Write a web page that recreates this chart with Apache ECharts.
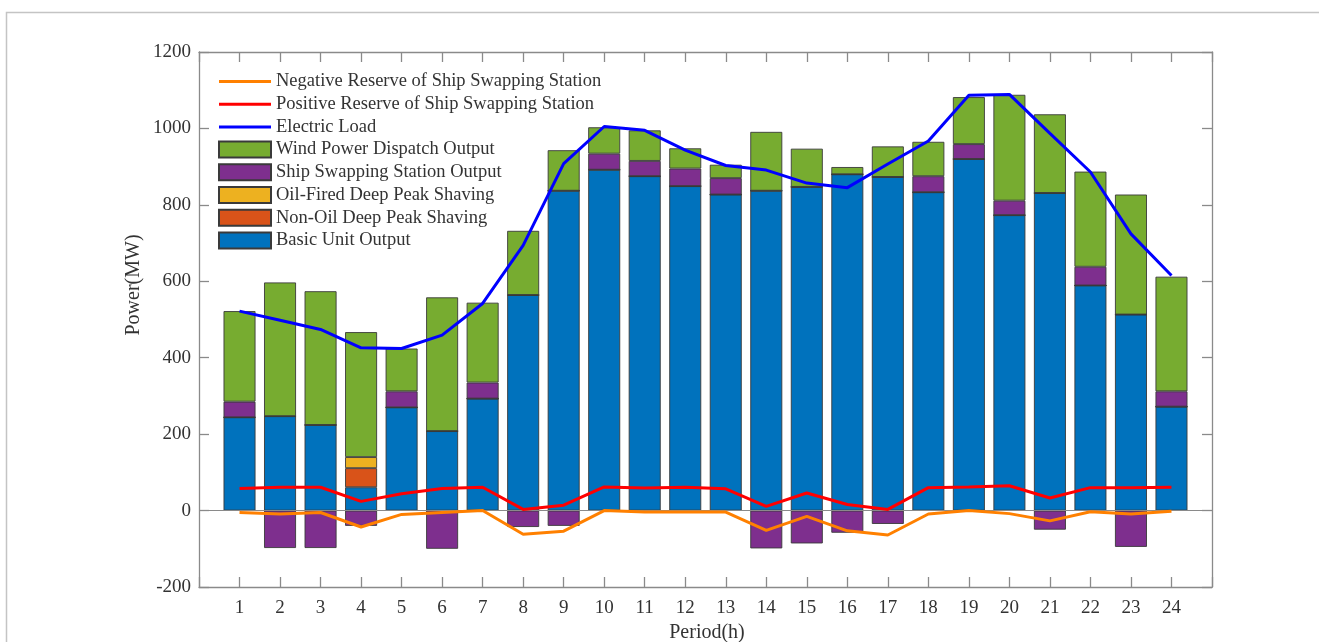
<!DOCTYPE html>
<html>
<head>
<meta charset="utf-8">
<script src="https://cdn.jsdelivr.net/npm/echarts@6/dist/echarts.min.js"></script>
<style>
  html, body { margin: 0; padding: 0; background: #fff; }
  #chart { width: 1319px; height: 642px; }
</style>
</head>
<body>
<div id="chart"></div>
<script>
// Hourly dispatch schedule (MW)
const hours = [1,2,3,4,5,6,7,8,9,10,11,12,13,14,15,16,17,18,19,20,21,22,23,24];

const basicUnit   = [244, 247, 224, 61, 270, 208, 293, 564, 837, 892, 875, 849, 827, 837, 847, 880, 873, 833, 920, 773, 831, 589, 513, 272];
const nonOilPeak  = [0, 0, 0, 50, 0, 0, 0, 0, 0, 0, 0, 0, 0, 0, 0, 0, 0, 0, 0, 0, 0, 0, 0, 0];
const oilPeak     = [0, 0, 0, 29, 0, 0, 0, 0, 0, 0, 0, 0, 0, 0, 0, 0, 0, 0, 0, 0, 0, 0, 0, 0];
const shipStation = [41, -98, -98, -40, 42, -100, 42, -43, -40, 42, 40, 46, 43, -99, -86, -58, -35, 42, 39, 38, -50, 49, -95, 40];
const windOutput  = [237, 350, 350, 327, 112, 350, 209, 168, 106, 69, 80, 53, 35, 154, 100, 19, 80, 90, 123, 277, 206, 249, 314, 300];
const electricLoad = [522, 498, 474, 426, 424, 459, 542, 694, 908, 1005, 995, 943, 903, 891, 857, 845, 907, 967, 1087, 1089, 987, 886, 724, 615];
const positiveReserve = [58, 61, 61, 24, 44, 58, 61, 3, 14, 62, 59, 61, 57, 11, 46, 16, 3, 60, 62, 65, 33, 60, 60, 61];
const negativeReserve = [-5, -9, -5, -43, -10, -5, 0, -62, -54, 0, -4, -4, -4, -52, -15, -53, -64, -9, 0, -8, -27, -3, -9, -2];

const FONT = '"Liberation Serif", "Times New Roman", serif';
const AXIS_COLOR = '#8a8a8a';
const TEXT_COLOR = '#333';

// The period axis runs from 0 to 25 with bars on the hours 1..24,
// so an empty slot is padded on each side.
const periodCats = [''].concat(hours.map(String), ['']);
const padded = arr => [null].concat(arr, [null]);

// Thin horizontal stroke used as the legend key of the line series
const LINE_ICON = 'path://M0,0 M52,16 M0,6.5 L52,6.5 L52,9.5 L0,9.5 Z';

function barSeries(name, arr, color, extra) {
  return Object.assign({
    name: name,
    type: 'bar',
    stack: 'power',
    barWidth: 32,
    data: padded(arr),
    itemStyle: { color: color, borderColor: '#3a3a3a', borderWidth: 0.9 },
    emphasis: { disabled: true }
  }, extra || {});
}

function lineSeries(name, arr, color) {
  return {
    name: name,
    type: 'line',
    data: padded(arr),
    symbol: 'none',
    connectNulls: false,
    lineStyle: { color: color, width: 3 },
    itemStyle: { color: color },
    z: 5,
    emphasis: { disabled: true }
  };
}

function periodAxis(position, showLabels) {
  return {
    type: 'category',
    data: periodCats,
    boundaryGap: false,
    position: position,
    axisLine: { show: true, onZero: false, lineStyle: { color: AXIS_COLOR, width: 1.3 } },
    axisTick: { show: true, inside: true, length: 10, interval: 0, lineStyle: { color: AXIS_COLOR, width: 1.3 } },
    axisLabel: { show: showLabels, interval: 0, fontFamily: FONT, fontSize: 19, color: TEXT_COLOR, margin: 12 },
    splitLine: { show: false }
  };
}

function powerAxis(position, showLabels) {
  return {
    type: 'value', min: -200, max: 1200, interval: 200,
    position: position,
    axisLine: { show: true, onZero: false, lineStyle: { color: AXIS_COLOR, width: 1.3 } },
    axisTick: { show: true, inside: true, length: 10, lineStyle: { color: AXIS_COLOR, width: 1.3 } },
    axisLabel: { show: showLabels, fontFamily: FONT, fontSize: 19, color: TEXT_COLOR, margin: 8, formatter: v => String(v) },
    splitLine: { show: false }
  };
}

const chart = echarts.init(document.getElementById('chart'), null, { renderer: 'canvas' });

const option = {
  animation: false,
  backgroundColor: '#fff',
  grid: { left: 199, top: 52, right: 107, bottom: 55, containLabel: false },
  legend: {
    orient: 'vertical',
    left: 218,
    top: 72,
    padding: 0,
    itemWidth: 52,
    itemHeight: 16,
    itemGap: 3.7,
    textStyle: { fontFamily: FONT, fontSize: 18.5, color: TEXT_COLOR },
    data: [
      { name: 'Negative Reserve of Ship Swapping Station', icon: LINE_ICON, itemStyle: { borderWidth: 0 } },
      { name: 'Positive Reserve of Ship Swapping Station', icon: LINE_ICON, itemStyle: { borderWidth: 0 } },
      { name: 'Electric Load', icon: LINE_ICON, itemStyle: { borderWidth: 0 } },
      { name: 'Wind Power Dispatch Output', icon: 'rect' },
      { name: 'Ship Swapping Station Output', icon: 'rect' },
      { name: 'Oil-Fired Deep Peak Shaving', icon: 'rect' },
      { name: 'Non-Oil Deep Peak Shaving', icon: 'rect' },
      { name: 'Basic Unit Output', icon: 'rect' }
    ],
    selectedMode: false
  },
  xAxis: [periodAxis('bottom', true), periodAxis('top', false)],
  yAxis: [powerAxis('left', true), powerAxis('right', false)],
  series: [
    barSeries('Basic Unit Output', basicUnit, '#0072BD', {
      markLine: {
        silent: true,
        symbol: 'none',
        label: { show: false },
        lineStyle: { color: '#8a8a8a', width: 1.2, type: 'solid' },
        data: [{ yAxis: 0 }]
      }
    }),
    barSeries('Non-Oil Deep Peak Shaving', nonOilPeak, '#D95319'),
    barSeries('Oil-Fired Deep Peak Shaving', oilPeak, '#EDB120'),
    barSeries('Ship Swapping Station Output', shipStation, '#7E2F8E'),
    barSeries('Wind Power Dispatch Output', windOutput, '#77AC30'),
    lineSeries('Electric Load', electricLoad, '#0000FF'),
    lineSeries('Positive Reserve of Ship Swapping Station', positiveReserve, '#FF0000'),
    lineSeries('Negative Reserve of Ship Swapping Station', negativeReserve, '#FF8000')
  ],
  graphic: [
    {
      type: 'rect',
      shape: { x: 6.5, y: 12.5, width: 1400, height: 700 },
      style: { fill: 'none', stroke: '#c4c4c4', lineWidth: 1.5 },
      silent: true
    },
    {
      type: 'text',
      x: 134, y: 285,
      rotation: Math.PI / 2,
      style: {
        text: 'Power(MW)',
        font: '20px ' + FONT,
        fill: TEXT_COLOR,
        align: 'center',
        verticalAlign: 'middle'
      },
      silent: true
    },
    {
      type: 'text',
      x: 707, y: 633,
      style: {
        text: 'Period(h)',
        font: '20px ' + FONT,
        fill: TEXT_COLOR,
        align: 'center',
        verticalAlign: 'middle'
      },
      silent: true
    }
  ]
};

chart.setOption(option);
</script>
</body>
</html>
